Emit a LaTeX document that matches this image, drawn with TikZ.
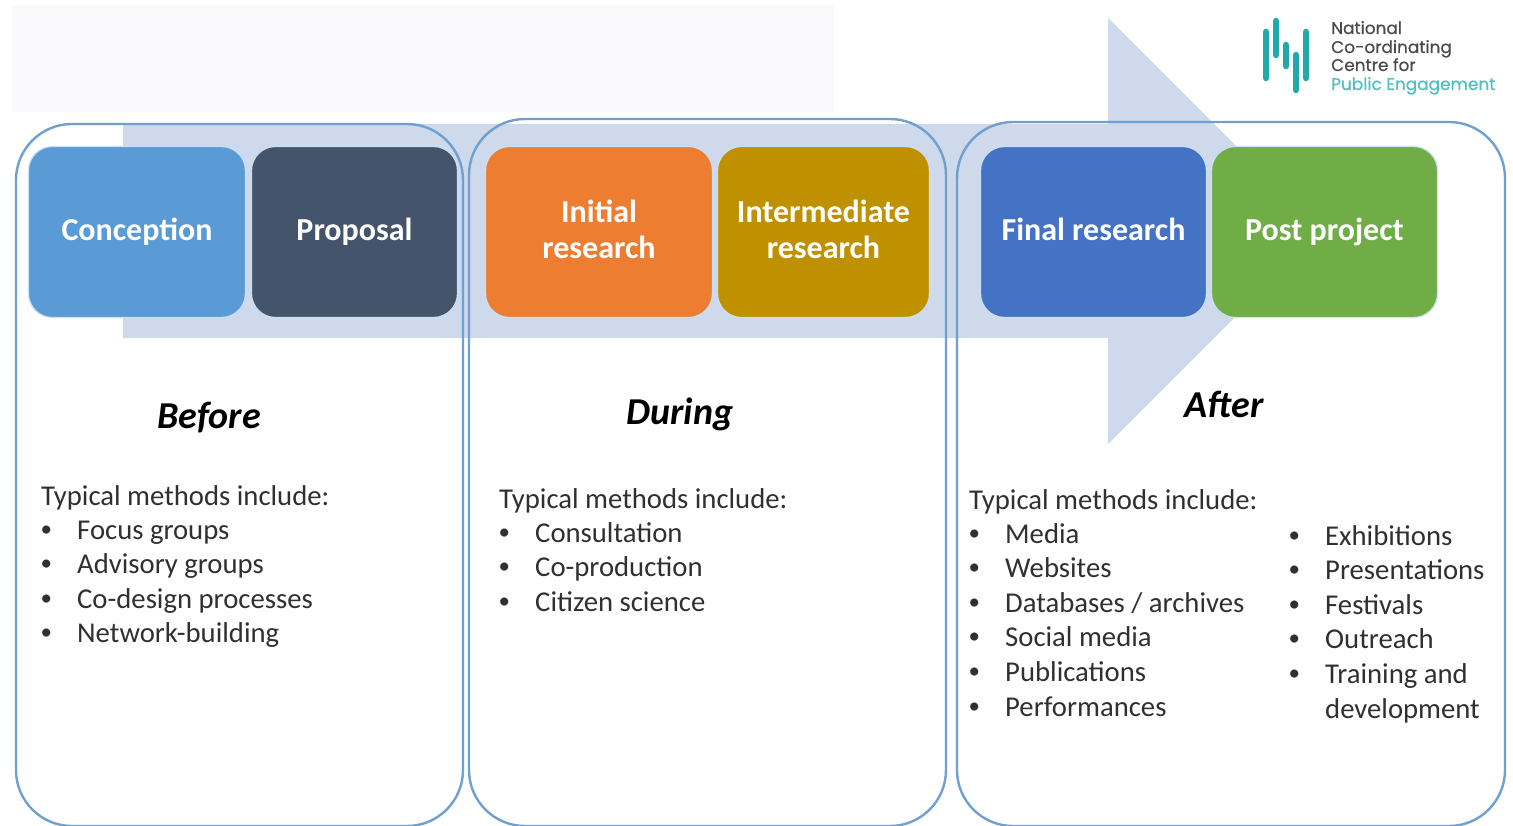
\documentclass[tikz,border=0pt]{standalone}
\usepackage{fontspec}
\setmainfont{Carlito}
\newfontfamily\logofont[FakeBold=0.5]{Poppins}
\usetikzlibrary{positioning}
\definecolor{arrowfill}{HTML}{CFD9EC}
\definecolor{framecol}{HTML}{6FA0CF}
\definecolor{stageedge}{HTML}{C9DFF2}
\definecolor{cConception}{HTML}{5B9BD5}
\definecolor{cProposal}{HTML}{44546A}
\definecolor{cInitial}{HTML}{ED7D31}
\definecolor{cInter}{HTML}{BF9000}
\definecolor{cFinal}{HTML}{4472C4}
\definecolor{cPost}{HTML}{70AD47}
\definecolor{teal}{HTML}{1FA9A9}
\definecolor{logotext}{HTML}{4A4A4A}
\definecolor{logoteal}{HTML}{4FBFC0}
\definecolor{bodytext}{HTML}{303030}
\definecolor{paleband}{HTML}{F9F9FC}
\tikzset{
 x=1pt,y=-1pt,
 frame/.style={draw=framecol,line width=2.4pt,rounded corners=56pt},
 stagebox/.style={draw=stageedge,line width=1.2pt,rounded corners=24pt,fill=#1},
 stagelabel/.style={text=white,font=\fontsize{32}{36}\selectfont\bfseries,align=center,inner sep=0pt},
 phase/.style={font=\fontsize{38}{42}\selectfont\bfseries\itshape,text=black,inner sep=0pt,anchor=base},
 listtext/.style={font=\fontsize{28.7}{34.5}\selectfont,text=bodytext,anchor=base west,inner sep=0pt,align=left},
 bulletmark/.style={font=\fontsize{23}{23}\selectfont,text=bodytext,anchor=base west,inner sep=0pt},
 bar/.style={line width=6.5pt,line cap=round,draw=teal},
 logoline/.style={font=\logofont\fontsize{16.9}{18}\selectfont,text=logotext,anchor=base west,inner sep=0pt},
}
\newcommand{\stage}[7]{\node[stagebox=#6,inner sep=0pt,minimum width=#3pt-#1pt+1pt,minimum height=#4pt-#2pt+1pt] (#7) at ({(#1+#3)/2},{(#2+#4)/2}) {};
\node[stagelabel] (#7label) at ({(#1+#3)/2},{(#2+#4)/2+1.5}) {#5};}
\newcommand{\bul}[3]{\node[bulletmark] at (#1-0.5,#2-3.5) {\textbullet}; \node[listtext] at (#1+36,#2-0.5) {#3};}
\begin{document}
\begin{tikzpicture}
\useasboundingbox (0,0) rectangle (1513,826);
\fill[white] (0,0) rectangle (1513,826);
\fill[paleband] (12,5) rectangle (834,112);
\fill[arrowfill] (123,124) -- (1108,124) -- (1108,18) -- (1321,231) -- (1108,444) -- (1108,338) -- (123,338) -- cycle;
\begin{scope}
\clip (0,0) rectangle (1513,826);
\draw[frame] (16,124) rectangle (463,826);
\draw[frame] (469,119) rectangle (946,826);
\draw[frame] (957,122) rectangle (1505,826);
\end{scope}
\stage{29}{147}{245}{317}{\strut Conception}{cConception}{conception}
\stage{252}{147}{457}{317}{\strut Proposal}{cProposal}{proposal}
\stage{486}{147}{712}{317}{\strut Initial\\\strut research}{cInitial}{initial}
\stage{718}{147}{929}{317}{\strut Intermediate\\\strut research}{cInter}{intermediate}
\stage{981}{147}{1206}{317}{\strut Final research}{cFinal}{final}
\stage{1212}{147}{1437}{317}{\strut Post project}{cPost}{post}
\node[phase] (before) at (209,428) {Before};
\node[phase] (during) at (680,424) {During};
\node[phase] (after) at (1224,417) {After};
\node[listtext] (m1) at (41,505) {Typical methods include:};
\bul{41}{540}{Focus groups}
\bul{41}{574}{Advisory groups}
\bul{41}{609}{Co-design processes}
\bul{41}{643}{Network-building}
\node[listtext] (m2) at (499,508) {Typical methods include:};
\bul{499}{543}{Consultation}
\bul{499}{577}{Co-production}
\bul{499}{612}{Citizen science}
\node[listtext] (m3) at (969,509) {Typical methods include:};
\bul{969}{544}{Media}
\bul{969}{578}{Websites}
\bul{969}{613}{Databases / archives}
\bul{969}{647}{Social media}
\bul{969}{682}{Publications}
\bul{969}{717}{Performances}
\bul{1289}{546}{Exhibitions}
\bul{1289}{580}{Presentations}
\bul{1289}{615}{Festivals}
\bul{1289}{649}{Outreach}
\bul{1289}{684}{Training and}
\node[listtext] at (1325,718) {development};
\draw[bar] (1266,32) -- (1266,78);
\draw[bar] (1276,21) -- (1276,55);
\draw[bar] (1286,45) -- (1286,66);
\draw[bar] (1296,55) -- (1296,90);
\draw[bar] (1306,32) -- (1306,78);
\node[logoline] at (1331,34) {National};
\node[logoline] at (1331,53) {Co-ordinating};
\node[logoline] at (1331,71) {Centre for};
\node[logoline,text=logoteal] at (1331,90) {Public Engagement};
\end{tikzpicture}
\end{document}
